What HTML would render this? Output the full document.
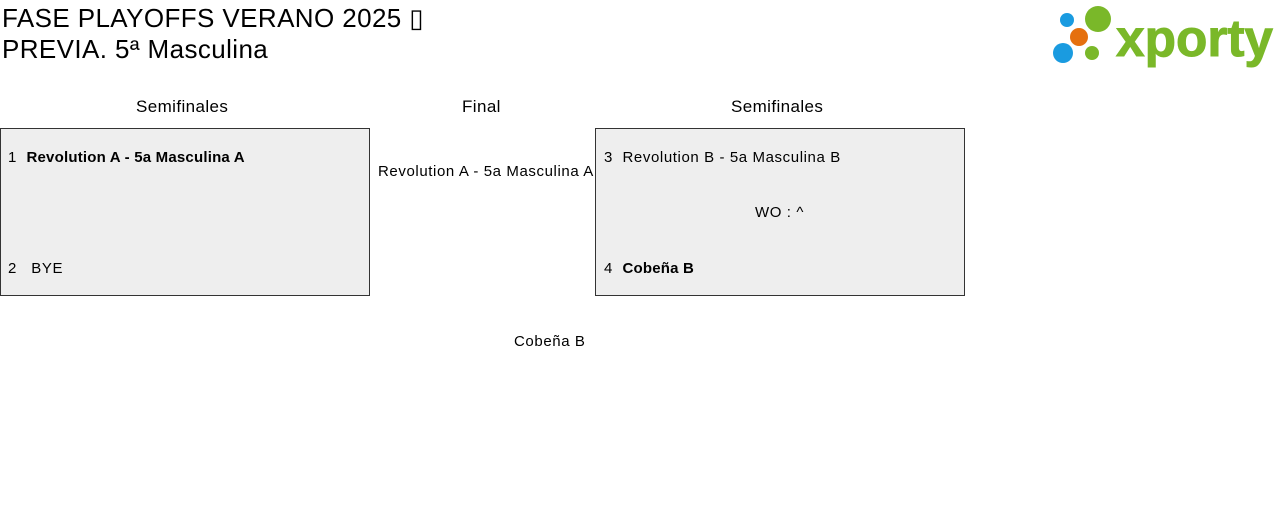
<!DOCTYPE html>
<html><head><meta charset="utf-8"><style>
body{margin:0;width:1280px;height:514px;background:#fff;font-family:"Liberation Sans",sans-serif;color:#000;position:relative;overflow:hidden}
.a{position:absolute;white-space:nowrap}
.box{position:absolute;background:#eee;border:1px solid #333;box-sizing:border-box}
.h{font-size:17px;letter-spacing:0.4px}
.t{font-size:15px;letter-spacing:0.6px}
.t b{letter-spacing:0.2px}
</style></head><body>
<div class="a" style="left:2px;top:3px;font-size:26px;line-height:31px;letter-spacing:0.4px">FASE PLAYOFFS VERANO 2025 ▯<br>PREVIA. 5ª Masculina</div>
<svg class="a" style="left:1040px;top:0" width="240" height="70">
<circle cx="27" cy="20" r="7" fill="#1a9be0"/>
<circle cx="58" cy="19" r="13" fill="#7ab829"/>
<circle cx="39" cy="37" r="9" fill="#e5700f"/>
<circle cx="23" cy="53" r="10" fill="#1a9be0"/>
<circle cx="52" cy="53" r="7" fill="#7ab829"/>
<text x="76" y="56" font-family="Liberation Sans" font-weight="bold" font-size="52" fill="#7ab829" stroke="#7ab829" stroke-width="1" textLength="157" lengthAdjust="spacingAndGlyphs">xporty</text>
</svg>
<div class="a h" style="left:136px;top:97px">Semifinales</div>
<div class="a h" style="left:462px;top:97px">Final</div>
<div class="a h" style="left:731px;top:97px">Semifinales</div>
<div class="box" style="left:0;top:128px;width:370px;height:168px"></div>
<div class="a t" style="left:8px;top:149px">1&nbsp;&nbsp;<b>Revolution A - 5a Masculina A</b></div>
<div class="a t" style="left:8px;top:260px">2&nbsp;&nbsp;&nbsp;BYE</div>
<div class="a t" style="left:378px;top:163px">Revolution A - 5a Masculina A</div>
<div class="box" style="left:595px;top:128px;width:370px;height:168px"></div>
<div class="a t" style="left:604px;top:149px">3&nbsp;&nbsp;Revolution B - 5a Masculina B</div>
<div class="a t" style="left:755px;top:204px">WO : ^</div>
<div class="a t" style="left:604px;top:260px">4&nbsp;&nbsp;<b>Cobeña B</b></div>
<div class="a t" style="left:514px;top:333px">Cobeña B</div>
</body></html>
